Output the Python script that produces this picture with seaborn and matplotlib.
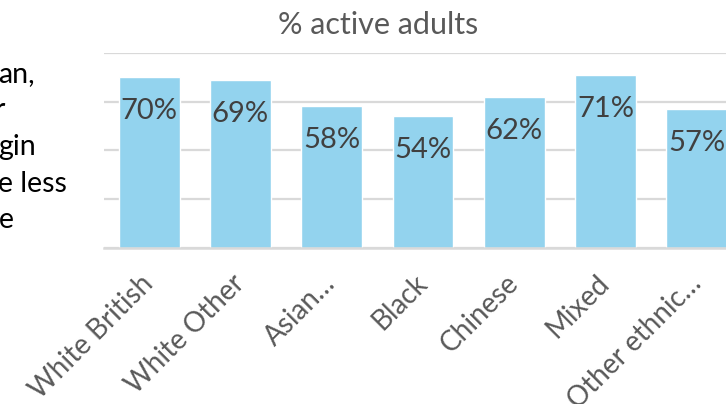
import matplotlib
matplotlib.use("Agg")
import matplotlib.pyplot as plt
import seaborn as sns
import pandas as pd

# data
groups = ["White British", "White Other", "Asian\u2026", "Black", "Chinese", "Mixed", "Other ethnic\u2026"]
active_pct = [70, 69, 58, 54, 62, 71, 57]
side_text = ["an,", "r", "gin", "e less", "e"]

bar_color = "#93D3EE"
grid_color = "#D9D9D9"
label_color = "#404040"
axis_text_color = "#595959"

sns.set_style("white")
plt.rcParams["font.family"] = ["Lato", "DejaVu Sans"]

df = pd.DataFrame({"group": groups, "pct": active_pct})

fig = plt.figure(figsize=(7.26, 4.04), dpi=100)
# plot area runs past the right edge, as in the cropped slide
ax = fig.add_axes([103.5 / 726, 156 / 404, 639 / 726, 195.3 / 404])

sns.barplot(data=df, x="group", y="pct", color=bar_color, width=0.668,
            saturation=1, ax=ax, zorder=2)

ax.set_ylim(0, 80)
ax.set_xlim(-0.5, len(groups) - 0.5)
ax.set_yticks([0, 20, 40, 60, 80])
ax.yaxis.grid(True, color=grid_color, linewidth=1.6, zorder=0)
ax.set_axisbelow(True)
ax.tick_params(axis="y", left=False, labelleft=False)
ax.tick_params(axis="x", bottom=False, pad=19, labelsize=20, labelcolor=axis_text_color)
for s in ["top", "right", "left"]:
    ax.spines[s].set_visible(False)
ax.spines["bottom"].set_color(grid_color)
ax.spines["bottom"].set_linewidth(1.8)
ax.set_xlabel("")
ax.set_ylabel("")
plt.setp(ax.get_xticklabels(), rotation=45, ha="right", va="center",
         rotation_mode="anchor")

# value labels just inside the top of each bar
for bar, v in zip(ax.patches, active_pct):
    ax.annotate(f"{v}%", (bar.get_x() + bar.get_width() / 2, bar.get_height()),
                xytext=(0, -24.5), textcoords="offset points",
                ha="center", va="center", fontsize=21, color=label_color,
                zorder=3)

fig.text(378 / 726, 1 - 25 / 404, "% active adults", ha="center", va="center",
         fontsize=22, color=axis_text_color)

# fragments of the slide text cut off at the left edge
for i, t in enumerate(side_text):
    x = -5 / 726 if t == "r" else -1.5 / 726
    fig.text(x, 1 - (82 + i * 36.5) / 404, t, ha="left", va="baseline",
             fontsize=20.5, color="black")

fig.savefig("out.png", dpi=100)
